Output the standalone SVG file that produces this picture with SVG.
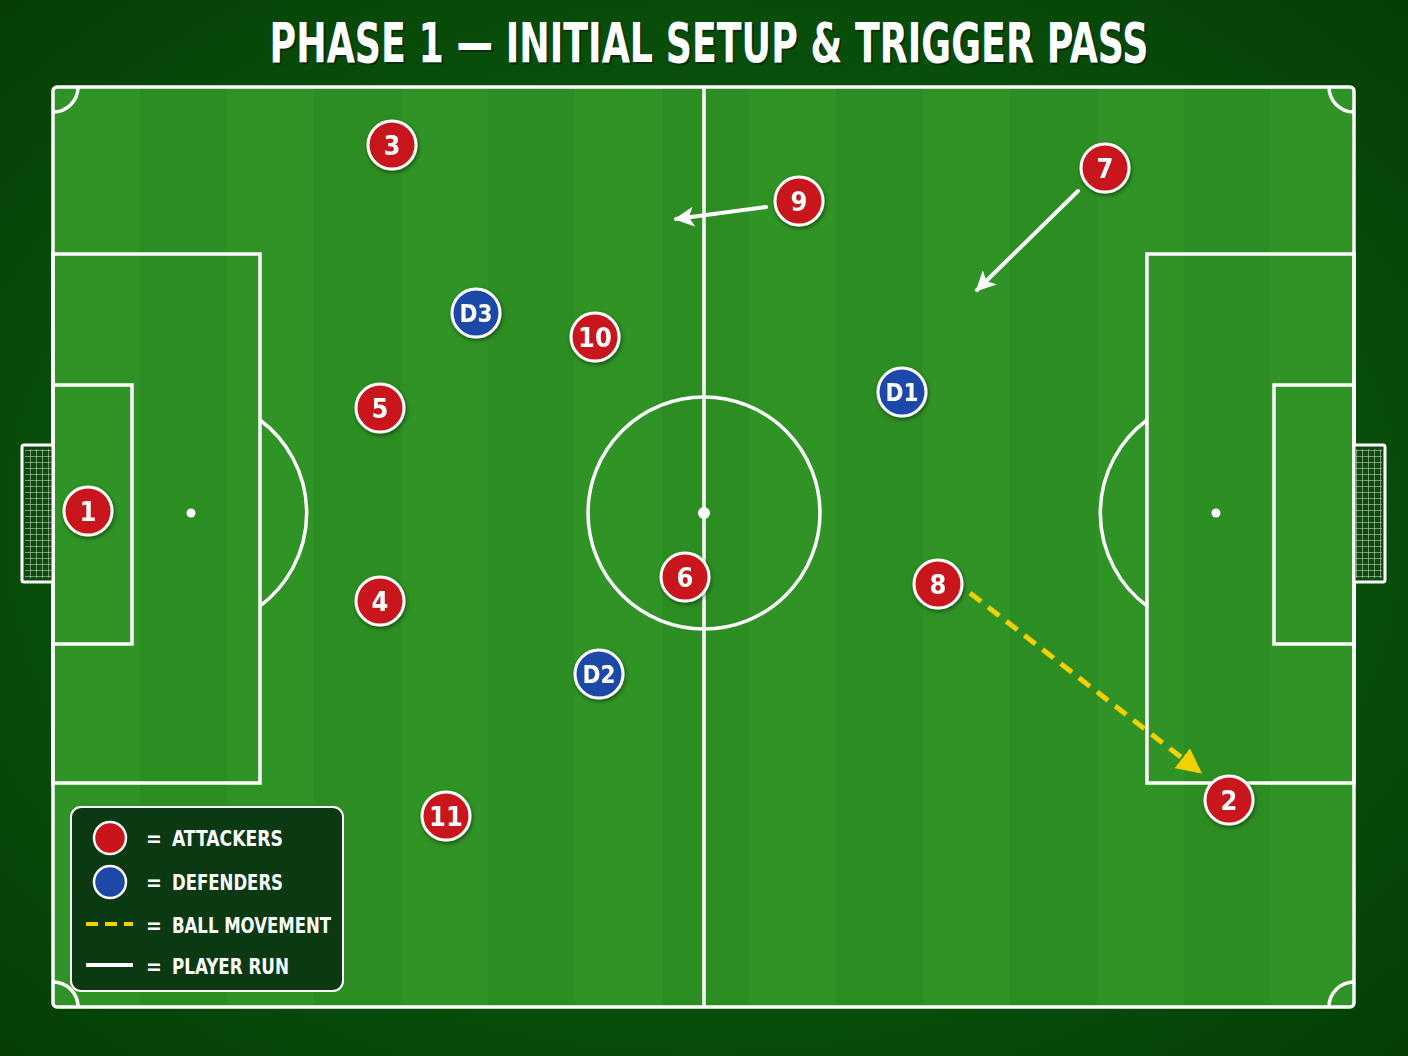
<svg xmlns="http://www.w3.org/2000/svg" width="1408" height="1056" viewBox="0 0 1408 1056">
<defs>
<radialGradient id="bg" cx="50%" cy="50%" r="70%">
<stop offset="0" stop-color="#0f6a12"/>
<stop offset="1" stop-color="#053f06"/>
</radialGradient>
<pattern id="stripes" x="53" y="0" width="174" height="1056" patternUnits="userSpaceOnUse">
<rect x="0" y="0" width="87" height="1056" fill="#2f9325"/>
<rect x="87" y="0" width="87" height="1056" fill="#2c8e22"/>
</pattern>
<pattern id="net" x="0" y="0" width="6" height="6" patternUnits="userSpaceOnUse">
<path d="M0 0H6M0 0V6" stroke="#dfe8d8" stroke-width="1" fill="none"/>
</pattern>
<filter id="sh" x="-20%" y="-20%" width="140%" height="140%">
<feDropShadow dx="1" dy="2" stdDeviation="2" flood-color="#000" flood-opacity="0.45"/>
</filter>
<marker id="wArrow" viewBox="0 0 10 10" refX="9" refY="5" markerWidth="5" markerHeight="5" orient="auto" markerUnits="strokeWidth">
<path d="M0 0L10 5L0 10L2.5 5Z" fill="#fff"/>
</marker>
<marker id="yArrow" viewBox="0 0 10 10" refX="9" refY="5" markerWidth="5" markerHeight="5" orient="auto" markerUnits="strokeWidth">
<path d="M0 0L10 5L0 10Z" fill="#f5d000"/>
</marker>
</defs>
<style>
.line{fill:none;stroke:#fff;stroke-width:3.5}
.att{fill:#c9141a;stroke:#fff;stroke-width:3}
.def{fill:#1d48a8;stroke:#fff;stroke-width:3}
.lbl{font-family:"DejaVu Sans Condensed","DejaVu Sans",sans-serif;font-stretch:condensed;font-weight:bold;fill:#fff;text-anchor:middle}
.num{font-size:27px}
.leg{font-family:"DejaVu Sans Condensed","DejaVu Sans",sans-serif;font-stretch:condensed;font-weight:bold;fill:#fff;font-size:21px}
.run{fill:none;stroke:#fff;stroke-width:4;stroke-linecap:round}
.ball{fill:none;stroke:#f5d000;stroke-width:5;stroke-dasharray:14 9}
.title{font-family:"DejaVu Sans Condensed","DejaVu Sans",sans-serif;font-stretch:condensed;font-weight:bold;font-size:46px;text-anchor:middle}
</style>
<rect x="0" y="0" width="1408" height="1056" fill="url(#bg)"/>
<g id="title">
<text transform="translate(711,64) scale(0.88,1.2)" class="title" fill="#000" opacity="0.35">PHASE 1 — INITIAL SETUP &amp; TRIGGER PASS</text>
<text transform="translate(709,62) scale(0.88,1.2)" class="title" fill="#fff">PHASE 1 — INITIAL SETUP &amp; TRIGGER PASS</text>
</g>

<g id="pitch">
<rect x="53" y="87" width="1301" height="920" rx="4" fill="url(#stripes)"/>
<rect x="53" y="87" width="1301" height="920" rx="4" class="line"/>
<line x1="704" y1="87" x2="704" y2="1007" class="line"/>
<circle cx="704" cy="513" r="116" class="line"/>
<circle cx="704" cy="513" r="6" fill="#fff"/>
<rect x="53" y="254" width="207" height="529" class="line"/>
<rect x="53" y="385" width="79" height="259" class="line"/>
<circle cx="191" cy="513" r="4.5" fill="#fff"/>
<path d="M260 420 A116 116 0 0 1 260 606" class="line"/>
<rect x="1147" y="254" width="207" height="529" class="line"/>
<rect x="1274" y="385" width="80" height="259" class="line"/>
<circle cx="1216" cy="513" r="4.5" fill="#fff"/>
<path d="M1147 420 A116 116 0 0 0 1147 606" class="line"/>
<path d="M53 112 A25 25 0 0 0 78 87" class="line"/>
<path d="M1329 87 A25 25 0 0 0 1354 112" class="line"/>
<path d="M53 982 A25 25 0 0 1 78 1007" class="line"/>
<path d="M1329 1007 A25 25 0 0 1 1354 982" class="line"/>
<g id="goal-left">
<rect x="22" y="445" width="31" height="137" rx="2" fill="#0d4a0d" stroke="#fff" stroke-width="3"/>
<rect x="25" y="449" width="26" height="129" fill="url(#net)"/>
</g>
<g id="goal-right">
<rect x="1354" y="445" width="31" height="137" rx="2" fill="#0d4a0d" stroke="#fff" stroke-width="3"/>
<rect x="1356" y="449" width="26" height="129" fill="url(#net)"/>
</g>
</g>

<g id="connectors">
<line x1="766" y1="207" x2="676" y2="219" class="run" marker-end="url(#wArrow)"/>
<line x1="1078" y1="191" x2="977" y2="290" class="run" marker-end="url(#wArrow)"/>
<line x1="970" y1="593" x2="1200" y2="772" class="ball" marker-end="url(#yArrow)"/>
</g>

<g id="p1" filter="url(#sh)"><circle cx="88" cy="511" r="24" class="att"/><text x="88" y="521" class="lbl num">1</text></g>
<g id="p3" filter="url(#sh)"><circle cx="392" cy="145" r="24" class="att"/><text x="392" y="155" class="lbl num">3</text></g>
<g id="p9" filter="url(#sh)"><circle cx="799" cy="201" r="24" class="att"/><text x="799" y="211" class="lbl num">9</text></g>
<g id="p7" filter="url(#sh)"><circle cx="1105" cy="168" r="24" class="att"/><text x="1105" y="178" class="lbl num">7</text></g>
<g id="p10" filter="url(#sh)"><circle cx="595" cy="337" r="24" class="att"/><text x="595" y="347" class="lbl num">10</text></g>
<g id="p5" filter="url(#sh)"><circle cx="380" cy="408" r="24" class="att"/><text x="380" y="418" class="lbl num">5</text></g>
<g id="p4" filter="url(#sh)"><circle cx="380" cy="601" r="24" class="att"/><text x="380" y="611" class="lbl num">4</text></g>
<g id="p6" filter="url(#sh)"><circle cx="685" cy="577" r="24" class="att"/><text x="685" y="587" class="lbl num">6</text></g>
<g id="p8" filter="url(#sh)"><circle cx="938" cy="584" r="24" class="att"/><text x="938" y="594" class="lbl num">8</text></g>
<g id="p2" filter="url(#sh)"><circle cx="1229" cy="800" r="24" class="att"/><text x="1229" y="810" class="lbl num">2</text></g>
<g id="p11" filter="url(#sh)"><circle cx="446" cy="816" r="24" class="att"/><text x="446" y="826" class="lbl num">11</text></g>
<g id="d3" filter="url(#sh)"><circle cx="476" cy="313" r="24" class="def"/><text x="476" y="322" class="lbl" font-size="24">D3</text></g>
<g id="d1" filter="url(#sh)"><circle cx="902" cy="392" r="24" class="def"/><text x="902" y="401" class="lbl" font-size="24">D1</text></g>
<g id="d2" filter="url(#sh)"><circle cx="599" cy="674" r="24" class="def"/><text x="599" y="683" class="lbl" font-size="24">D2</text></g>

<g id="legend">
<rect x="71" y="807" width="272" height="184" rx="10" fill="#0b3a12" stroke="#fff" stroke-width="2"/>
<circle cx="110" cy="838" r="16" fill="#c9141a" stroke="#fff" stroke-width="2.5"/>
<circle cx="110" cy="882" r="16" fill="#1d48a8" stroke="#fff" stroke-width="2.5"/>
<line x1="86" y1="924" x2="133" y2="924" stroke="#f5d000" stroke-width="4" stroke-dasharray="12 7"/>
<line x1="86" y1="965" x2="133" y2="965" stroke="#fff" stroke-width="4"/>
<text x="146" y="846" class="leg">=</text><text x="172" y="846" class="leg" textLength="111" lengthAdjust="spacingAndGlyphs">ATTACKERS</text>
<text x="146" y="890" class="leg">=</text><text x="172" y="890" class="leg" textLength="111" lengthAdjust="spacingAndGlyphs">DEFENDERS</text>
<text x="146" y="933" class="leg">=</text><text x="172" y="933" class="leg" textLength="159" lengthAdjust="spacingAndGlyphs">BALL MOVEMENT</text>
<text x="146" y="974" class="leg">=</text><text x="172" y="974" class="leg" textLength="117" lengthAdjust="spacingAndGlyphs">PLAYER RUN</text>
</g>
</svg>
